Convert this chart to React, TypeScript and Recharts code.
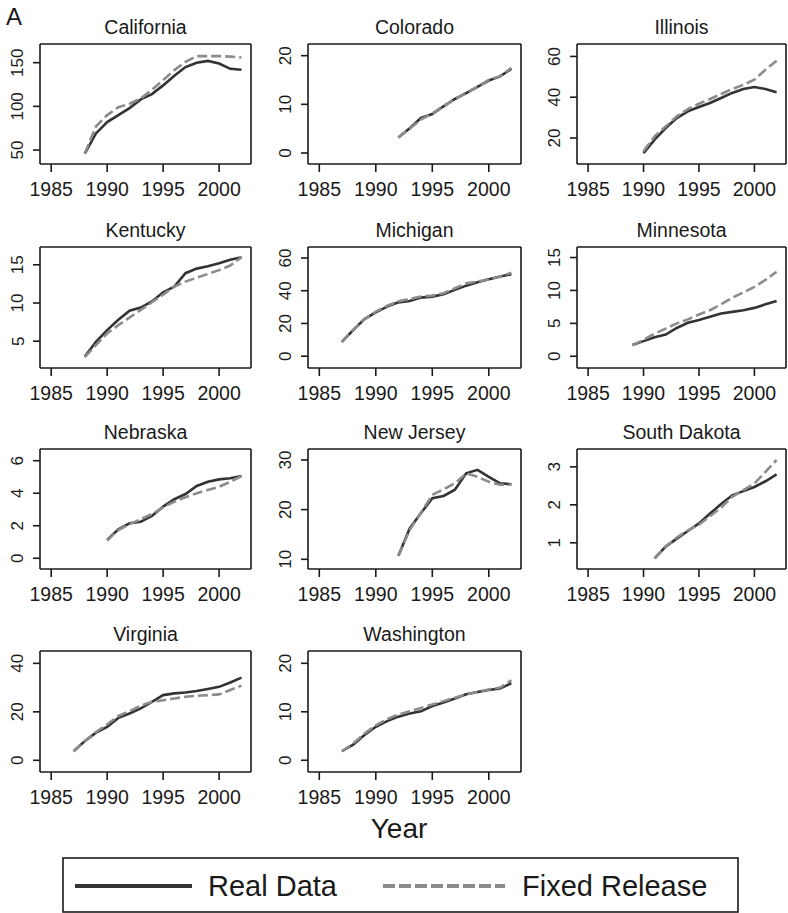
import React from "react";
import { LineChart, Line, XAxis, YAxis, ReferenceLine } from "recharts";

// ---------- data ----------
const years1987 = [1987, 1988, 1989, 1990, 1991, 1992, 1993, 1994, 1995, 1996, 1997, 1998, 1999, 2000, 2001, 2002];
const years1988 = [1988, 1989, 1990, 1991, 1992, 1993, 1994, 1995, 1996, 1997, 1998, 1999, 2000, 2001, 2002];
const years1989 = [1989, 1990, 1991, 1992, 1993, 1994, 1995, 1996, 1997, 1998, 1999, 2000, 2001, 2002];
const years1990 = [1990, 1991, 1992, 1993, 1994, 1995, 1996, 1997, 1998, 1999, 2000, 2001, 2002];
const years1991 = [1991, 1992, 1993, 1994, 1995, 1996, 1997, 1998, 1999, 2000, 2001, 2002];
const years1992 = [1992, 1993, 1994, 1995, 1996, 1997, 1998, 1999, 2000, 2001, 2002];

const californiaReal = [46, 69, 82, 90, 98, 108, 114, 124, 135, 145, 150, 152, 149, 143, 142];
const californiaFixed = [46, 77, 90, 99, 103, 109, 119, 130, 141.5, 151, 157.5, 157.5, 157.5, 157, 156];

const coloradoReal = [3.2, 5.1, 7.2, 8.0, 9.6, 11.1, 12.3, 13.6, 14.9, 15.75, 17.3];
const coloradoFixed = [3.2, 5.0, 6.9, 8.1, 9.7, 11.0, 12.4, 13.6, 15.0, 15.8, 17.5];

const illinoisReal = [12.6, 19.2, 24.9, 29.8, 33.1, 35.2, 37.2, 39.6, 42.1, 44.0, 45.0, 44.0, 42.4];
const illinoisFixed = [13.5, 20.8, 25.7, 30.6, 34.2, 36.8, 39.1, 41.6, 44.0, 46.1, 48.6, 53.5, 57.9];

const kentuckyReal = [3.0, 4.9, 6.45, 7.8, 9.0, 9.4, 10.2, 11.4, 12.15, 13.9, 14.5, 14.8, 15.2, 15.65, 16.0];
const kentuckyFixed = [2.9, 4.5, 6.0, 7.1, 8.1, 9.1, 10.1, 11.1, 12.15, 12.8, 13.3, 13.8, 14.3, 14.9, 16.0];

const michiganReal = [8.8, 16.0, 22.7, 26.8, 30.3, 32.9, 33.7, 35.8, 36.4, 37.8, 40.5, 43.1, 45.2, 47.0, 48.7, 50.1];
const michiganFixed = [8.8, 16.0, 22.5, 27.2, 30.8, 33.5, 35.0, 36.5, 37.0, 38.5, 41.5, 44.5, 45.5, 47.0, 48.5, 51.0];

const minnesotaReal = [1.7, 2.3, 2.9, 3.3, 4.3, 5.1, 5.5, 6.0, 6.5, 6.75, 7.0, 7.35, 7.9, 8.4];
const minnesotaFixed = [1.7, 2.5, 3.45, 4.2, 5.0, 5.6, 6.35, 7.0, 7.9, 8.9, 9.7, 10.55, 11.6, 12.85];

const nebraskaReal = [1.13, 1.78, 2.15, 2.25, 2.6, 3.18, 3.63, 3.95, 4.45, 4.7, 4.85, 4.92, 5.06];
const nebraskaFixed = [1.09, 1.74, 2.1, 2.4, 2.72, 3.13, 3.48, 3.75, 4.0, 4.2, 4.4, 4.7, 5.06];

const newJerseyReal = [10.7, 16.2, 19.3, 22.3, 22.75, 24.0, 27.3, 28.0, 26.6, 25.3, 25.1];
const newJerseyFixed = [10.7, 15.9, 19.4, 22.95, 24.1, 25.3, 27.3, 26.6, 25.6, 25.0, 25.0];

const southDakotaReal = [0.59, 0.9, 1.11, 1.31, 1.51, 1.77, 2.02, 2.25, 2.36, 2.47, 2.62, 2.8];
const southDakotaFixed = [0.59, 0.9, 1.14, 1.33, 1.48, 1.7, 1.93, 2.21, 2.39, 2.56, 2.87, 3.18];

const virginiaReal = [3.7, 7.9, 11.4, 13.8, 17.5, 19.3, 21.4, 24.1, 26.9, 27.6, 28.0, 28.6, 29.4, 30.3, 32.1, 34.1];
const virginiaFixed = [3.7, 7.9, 11.7, 14.8, 18.3, 20.3, 22.5, 24.1, 24.8, 25.5, 26.2, 26.6, 26.9, 27.2, 29.0, 30.8];

const washingtonReal = [1.86, 3.24, 5.2, 6.9, 8.07, 9.0, 9.66, 10.1, 11.2, 11.9, 12.75, 13.6, 14.1, 14.5, 14.8, 15.9];
const washingtonFixed = [1.86, 3.45, 5.5, 7.2, 8.5, 9.45, 10.1, 10.8, 11.5, 12.2, 12.9, 13.6, 14.1, 14.6, 15.0, 16.5];

const X_TICKS = [1985, 1990, 1995, 2000];
const X_DOMAIN: [number, number] = [1984.0, 2002.85];

const SERIES_NAMES = ["Real Data", "Fixed Release"];

// ---------- layout ----------
const COL_L = [40, 308, 577];
const COL_R = [251, 521, 786];
const ROW_T = [44, 247, 449, 651];
const ROW_B = [164, 368, 569, 772];

const FONT = "'Liberation Sans', Arial, Helvetica, sans-serif";
const INK = "#1a1a1a";
const REAL_COLOR = "#333333";
const FIXED_COLOR = "#8c8c8c";

type PanelDef = {
  name: string;
  years: number[];
  real: number[];
  fixed: number[];
  yDomain: [number, number];
  yTicks: number[];
  col: number;
  row: number;
};

const PANELS: PanelDef[] = [
  { name: "California", years: years1988, real: californiaReal, fixed: californiaFixed, yDomain: [34, 171.4], yTicks: [50, 100, 150], col: 0, row: 0 },
  { name: "Colorado", years: years1992, real: coloradoReal, fixed: coloradoFixed, yDomain: [-2.26, 22.4], yTicks: [0, 10, 20], col: 1, row: 0 },
  { name: "Illinois", years: years1990, real: illinoisReal, fixed: illinoisFixed, yDomain: [7.25, 66.1], yTicks: [20, 40, 60], col: 2, row: 0 },
  { name: "Kentucky", years: years1988, real: kentuckyReal, fixed: kentuckyFixed, yDomain: [1.49, 17.33], yTicks: [5, 10, 15], col: 0, row: 1 },
  { name: "Michigan", years: years1987, real: michiganReal, fixed: michiganFixed, yDomain: [-7.2, 66.7], yTicks: [0, 20, 40, 60], col: 1, row: 1 },
  { name: "Minnesota", years: years1989, real: minnesotaReal, fixed: minnesotaFixed, yDomain: [-1.78, 16.6], yTicks: [0, 5, 10, 15], col: 2, row: 1 },
  { name: "Nebraska", years: years1990, real: nebraskaReal, fixed: nebraskaFixed, yDomain: [-0.66, 6.72], yTicks: [0, 2, 4, 6], col: 0, row: 2 },
  { name: "New Jersey", years: years1992, real: newJerseyReal, fixed: newJerseyFixed, yDomain: [8.05, 32.2], yTicks: [10, 20, 30], col: 1, row: 2 },
  { name: "South Dakota", years: years1991, real: southDakotaReal, fixed: southDakotaFixed, yDomain: [0.31, 3.47], yTicks: [1, 2, 3], col: 2, row: 2 },
  { name: "Virginia", years: years1987, real: virginiaReal, fixed: virginiaFixed, yDomain: [-4.83, 45.1], yTicks: [0, 20, 40], col: 0, row: 3 },
  { name: "Washington", years: years1987, real: washingtonReal, fixed: washingtonFixed, yDomain: [-2.42, 22.54], yTicks: [0, 10, 20], col: 1, row: 3 },
];

const YW = 45; // y axis width
const MT = 4; // top margin
const MR = 4; // right margin
const XH = 44; // x axis height

const XTick = (props: any) => {
  const { x, y, payload } = props;
  return (
    <text x={x} y={y + 22} textAnchor="middle" fontFamily={FONT} fontSize={19.5} fill={INK}>
      {payload.value}
    </text>
  );
};

const YTick = (props: any) => {
  const { x, y, payload } = props;
  const cx = x - 13;
  return (
    <text
      x={cx}
      y={y}
      transform={`rotate(-90, ${cx}, ${y})`}
      textAnchor="middle"
      dominantBaseline="central"
      fontFamily={FONT}
      fontSize={17}
      fill={INK}
    >
      {payload.value}
    </text>
  );
};

function Panel({ p }: { p: PanelDef }) {
  const L = COL_L[p.col];
  const R = COL_R[p.col];
  const T = ROW_T[p.row];
  const B = ROW_B[p.row];
  const width = R - L + YW + MR;
  const height = B - T + MT + XH;
  const data = p.years.map((year, i) => ({ year, real: p.real[i], fixed: p.fixed[i] }));
  return (
    <div style={{ position: "absolute", left: L - YW, top: T - MT }}>
      <LineChart width={width} height={height} data={data} margin={{ top: MT, right: MR, bottom: 0, left: 0 }}>
        <XAxis
          dataKey="year"
          type="number"
          domain={X_DOMAIN}
          ticks={X_TICKS}
          allowDataOverflow
          height={XH}
          tickSize={8}
          tick={XTick}
          interval={0}
          axisLine={{ stroke: INK, strokeWidth: 1.6 }}
          tickLine={{ stroke: INK, strokeWidth: 1.6 }}
        />
        <YAxis
          type="number"
          domain={p.yDomain}
          ticks={p.yTicks}
          allowDataOverflow
          width={YW}
          tickSize={7}
          tick={YTick}
          interval={0}
          axisLine={{ stroke: INK, strokeWidth: 1.6 }}
          tickLine={{ stroke: INK, strokeWidth: 1.6 }}
        />
        <ReferenceLine y={p.yDomain[1]} stroke={INK} strokeWidth={1.6} />
        <ReferenceLine x={X_DOMAIN[1]} stroke={INK} strokeWidth={1.6} />
        <Line
          dataKey="real"
          name={SERIES_NAMES[0]}
          type="linear"
          stroke={REAL_COLOR}
          strokeWidth={2.6}
          dot={false}
          isAnimationActive={false}
        />
        <Line
          dataKey="fixed"
          name={SERIES_NAMES[1]}
          type="linear"
          stroke={FIXED_COLOR}
          strokeWidth={2.6}
          strokeDasharray="10 4"
          dot={false}
          isAnimationActive={false}
        />
      </LineChart>
    </div>
  );
}

export default function App() {
  return (
    <div
      style={{
        position: "absolute",
        left: 0,
        top: 0,
        width: 788,
        height: 913,
        background: "#ffffff",
        fontFamily: FONT,
        overflow: "hidden",
      }}
    >
      {PANELS.map((p) => (
        <Panel key={p.name} p={p} />
      ))}
      <svg width={788} height={913} style={{ position: "absolute", left: 0, top: 0, pointerEvents: "none" }}>
        <text x={6} y={25} fontFamily={FONT} fontSize={24} fill={INK}>
          A
        </text>
        {PANELS.map((p) => (
          <text
            key={p.name}
            x={(COL_L[p.col] + COL_R[p.col]) / 2}
            y={ROW_T[p.row] - 10}
            textAnchor="middle"
            fontFamily={FONT}
            fontSize={19.5}
            fill={INK}
          >
            {p.name}
          </text>
        ))}
        <text x={399} y={838} textAnchor="middle" fontFamily={FONT} fontSize={28} fill={INK}>
          Year
        </text>
        <rect x={63} y={858} width={675} height={54} fill="none" stroke={INK} strokeWidth={1.6} />
        <line x1={75} y1={886} x2={192} y2={886} stroke={REAL_COLOR} strokeWidth={4} />
        <text x={208} y={896} fontFamily={FONT} fontSize={29} fill={INK}>
          {SERIES_NAMES[0]}
        </text>
        <line x1={383} y1={886} x2={505} y2={886} stroke={FIXED_COLOR} strokeWidth={4} strokeDasharray="12 4" />
        <text x={522} y={896} fontFamily={FONT} fontSize={29} fill={INK}>
          {SERIES_NAMES[1]}
        </text>
      </svg>
    </div>
  );
}
